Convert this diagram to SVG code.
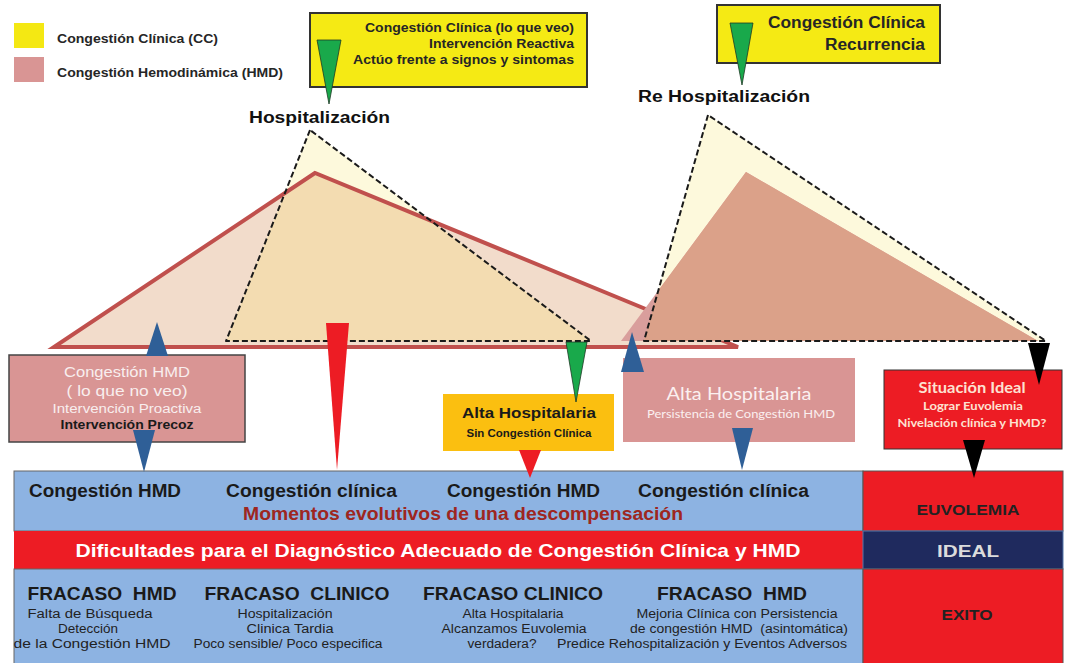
<svg xmlns="http://www.w3.org/2000/svg" width="1068" height="663" viewBox="0 0 1068 663">
<style>
text{font-family:"Liberation Sans",Arial,sans-serif;}
.b{font-weight:bold;}
.dk{fill:#262626;}
.cal{font-family:Lato,"Open Sans",sans-serif;}
.dash{fill:none;stroke:#1a1a1a;stroke-width:2;stroke-dasharray:6 3;stroke-linejoin:round;}
.blue{fill:#2f5f97;}
.red{fill:#ed1c24;}
.green{fill:#19a94b;stroke:#1d3a24;stroke-width:0.8;}
.black{fill:#000;}
.sub{font-size:12px;fill:#222;}
.head{font-size:18px;font-weight:bold;fill:#1a1a1a;}
</style>
<rect width="1068" height="663" fill="#fff"/>

<g id="legend">
<rect x="14" y="23" width="30" height="25" fill="#f4e813"/>
<rect x="14" y="57" width="30" height="25" fill="#d99594"/>
<text x="57" y="43" class="b dk" font-size="12" textLength="161" lengthAdjust="spacingAndGlyphs">Congestión Clínica (CC)</text>
<text x="57" y="77" class="b dk" font-size="12" textLength="226" lengthAdjust="spacingAndGlyphs">Congestión Hemodinámica (HMD)</text>
</g>

<g id="curves">
<polygon points="315,173 54,347 738,347" fill="#f2dccb"/>
<polygon points="310,130 226,341 591,341" fill="#fdf9dc"/>
<polygon points="285,193 315,173 431,221 591,341 226,341" fill="#f3dcb1"/>
<polygon points="315,173 54,347 738,347" fill="none" stroke="#c0504d" stroke-width="4" stroke-linejoin="miter"/>
<polygon points="310,130 226,341 591,341" class="dash"/>
<polygon points="708,115 644,341 1046,341" fill="#fdf9dc"/>
<polygon points="746,172 621,341 1038,341" fill="#d99e9c"/>
<polygon points="746,172 1038,341 644,341 658,291" fill="#dba189"/>
<polygon points="708,115 644,341 1046,341" class="dash"/>
</g>

<g id="box-cc">
<rect x="310" y="13" width="277" height="74" fill="#f5ea14" stroke="#333" stroke-width="2"/>
<text x="574" y="32" text-anchor="end" class="b dk" font-size="12.5" textLength="209" lengthAdjust="spacingAndGlyphs">Congestión Clínica (lo que veo)</text>
<text x="574" y="48" text-anchor="end" class="b dk" font-size="12.5" textLength="145" lengthAdjust="spacingAndGlyphs">Intervención Reactiva</text>
<text x="574" y="64" text-anchor="end" class="b dk" font-size="12.5" textLength="221" lengthAdjust="spacingAndGlyphs">Actúo frente a signos y sintomas</text>
</g>

<g id="box-recurrencia">
<rect x="717" y="5" width="223" height="58" fill="#f5ea14" stroke="#333" stroke-width="2"/>
<text x="925" y="28" text-anchor="end" class="b dk" font-size="16" textLength="157" lengthAdjust="spacingAndGlyphs">Congestión Clínica</text>
<text x="925" y="50" text-anchor="end" class="b dk" font-size="16" textLength="100" lengthAdjust="spacingAndGlyphs">Recurrencia</text>
</g>

<g id="label-hosp">
<text x="249" y="123" class="b" fill="#111" font-size="16" textLength="141" lengthAdjust="spacingAndGlyphs">Hospitalización</text>
</g>
<g id="label-rehosp">
<text x="638" y="102" class="b" fill="#111" font-size="16" textLength="172" lengthAdjust="spacingAndGlyphs">Re Hospitalización</text>
</g>

<g id="box-hmd">
<rect x="9" y="355" width="236" height="87" fill="#d99594" stroke="#444" stroke-width="1.5"/>
<text x="127" y="377" text-anchor="middle" fill="#f8eeee" font-size="14" textLength="126" lengthAdjust="spacingAndGlyphs">Congestión HMD</text>
<text x="127" y="396" text-anchor="middle" fill="#f8eeee" font-size="14" textLength="121" lengthAdjust="spacingAndGlyphs">( lo que no veo)</text>
<text x="127" y="413" text-anchor="middle" fill="#f8eeee" font-size="12" textLength="149" lengthAdjust="spacingAndGlyphs">Intervención Proactiva</text>
<text x="127" y="429" text-anchor="middle" class="b" fill="#1a1a1a" font-size="12" textLength="133" lengthAdjust="spacingAndGlyphs">Intervención Precoz</text>
</g>

<g id="box-alta">
<rect x="443" y="394" width="171" height="57" fill="#fbbf10"/>
<text x="529" y="418" text-anchor="middle" class="b" fill="#1a1a1a" font-size="15" textLength="134" lengthAdjust="spacingAndGlyphs">Alta Hospitalaria</text>
<text x="529" y="437" text-anchor="middle" class="b" fill="#1a1a1a" font-size="11" textLength="125" lengthAdjust="spacingAndGlyphs">Sin Congestión Clínica</text>
</g>

<g id="box-alta-hmd">
<rect x="623" y="358" width="232" height="84" fill="#d99594"/>
<text x="739" y="400" text-anchor="middle" class="cal" fill="#fbf0f0" font-size="17" textLength="145" lengthAdjust="spacingAndGlyphs">Alta Hospitalaria</text>
<text x="741" y="418" text-anchor="middle" class="cal" fill="#fbf0f0" font-size="12" textLength="188" lengthAdjust="spacingAndGlyphs">Persistencia de Congestión HMD</text>
</g>

<g id="box-ideal">
<rect x="884" y="370" width="178" height="79" fill="#ed1c24" stroke="#333" stroke-width="1"/>
<text x="972" y="393" text-anchor="middle" class="cal b" fill="#fde2d2" font-size="15" textLength="107" lengthAdjust="spacingAndGlyphs">Situación Ideal</text>
<text x="973" y="410" text-anchor="middle" class="cal b" fill="#fde2d2" font-size="11" textLength="100" lengthAdjust="spacingAndGlyphs">Lograr Euvolemia</text>
<text x="972" y="427" text-anchor="middle" class="cal b" fill="#fde2d2" font-size="11" textLength="149" lengthAdjust="spacingAndGlyphs">Nivelación clínica y HMD?</text>
</g>

<g id="band-momentos">
<rect x="14" y="471" width="849" height="60" fill="#8db3e2" stroke="#666" stroke-width="1"/>
<text x="29" y="497" class="head" textLength="152" lengthAdjust="spacingAndGlyphs">Congestión HMD</text>
<text x="226" y="497" class="head" textLength="171" lengthAdjust="spacingAndGlyphs">Congestión clínica</text>
<text x="447" y="497" class="head" textLength="153" lengthAdjust="spacingAndGlyphs">Congestión HMD</text>
<text x="638" y="497" class="head" textLength="171" lengthAdjust="spacingAndGlyphs">Congestión clínica</text>
<text x="463" y="520" text-anchor="middle" class="b" fill="#9e2620" font-size="18" textLength="440" lengthAdjust="spacingAndGlyphs">Momentos evolutivos de una descompensación</text>
</g>

<g id="band-dificultades">
<rect x="14" y="531" width="849" height="38" fill="#ed1c24"/>
<text x="438" y="557" text-anchor="middle" class="b" fill="#fff" font-size="19" textLength="725" lengthAdjust="spacingAndGlyphs">Dificultades para el Diagnóstico Adecuado de Congestión Clínica y HMD</text>
</g>

<g id="band-fracaso">
<rect x="14" y="569" width="849" height="96" fill="#8db3e2" stroke="#666" stroke-width="1"/>
<text x="102" y="600" text-anchor="middle" class="head" textLength="149" lengthAdjust="spacingAndGlyphs">FRACASO&#160; HMD</text>
<text x="297" y="600" text-anchor="middle" class="head" textLength="185" lengthAdjust="spacingAndGlyphs">FRACASO&#160; CLINICO</text>
<text x="513" y="600" text-anchor="middle" class="head" textLength="180" lengthAdjust="spacingAndGlyphs">FRACASO CLINICO</text>
<text x="732" y="600" text-anchor="middle" class="head" textLength="150" lengthAdjust="spacingAndGlyphs">FRACASO&#160; HMD</text>
<text x="90" y="618" text-anchor="middle" class="sub" textLength="125" lengthAdjust="spacingAndGlyphs">Falta de Búsqueda</text>
<text x="88" y="633" text-anchor="middle" class="sub" textLength="60" lengthAdjust="spacingAndGlyphs">Detección</text>
<text x="92" y="648" text-anchor="middle" class="sub" textLength="157" lengthAdjust="spacingAndGlyphs">de la Congestión HMD</text>
<text x="285" y="618" text-anchor="middle" class="sub" textLength="95" lengthAdjust="spacingAndGlyphs">Hospitalización</text>
<text x="290" y="633" text-anchor="middle" class="sub" textLength="87" lengthAdjust="spacingAndGlyphs">Clinica Tardia</text>
<text x="288" y="648" text-anchor="middle" class="sub" textLength="189" lengthAdjust="spacingAndGlyphs">Poco sensible/ Poco especifica</text>
<text x="513" y="618" text-anchor="middle" class="sub" textLength="101" lengthAdjust="spacingAndGlyphs">Alta Hospitalaria</text>
<text x="514" y="633" text-anchor="middle" class="sub" textLength="145" lengthAdjust="spacingAndGlyphs">Alcanzamos Euvolemia</text>
<text x="502" y="648" text-anchor="middle" class="sub" textLength="69" lengthAdjust="spacingAndGlyphs">verdadera?</text>
<text x="737" y="618" text-anchor="middle" class="sub" textLength="201" lengthAdjust="spacingAndGlyphs">Mejoria Clínica con Persistencia</text>
<text x="739" y="633" text-anchor="middle" class="sub" textLength="218" lengthAdjust="spacingAndGlyphs">de congestión HMD&#160; (asintomática)</text>
<text x="702" y="648" text-anchor="middle" class="sub" textLength="290" lengthAdjust="spacingAndGlyphs">Predice Rehospitalización y Eventos Adversos</text>
</g>

<g id="cell-euvolemia">
<rect x="863" y="471" width="200" height="60" fill="#ed1c24" stroke="#555" stroke-width="1"/>
<text x="968" y="515" text-anchor="middle" class="b" fill="#222" font-size="14" textLength="103" lengthAdjust="spacingAndGlyphs">EUVOLEMIA</text>
</g>
<g id="cell-ideal">
<rect x="863" y="531" width="200" height="38" fill="#1f2a5e" stroke="#5577aa" stroke-width="1"/>
<text x="968" y="557" text-anchor="middle" class="b" fill="#dcdcdc" font-size="17" textLength="62" lengthAdjust="spacingAndGlyphs">IDEAL</text>
</g>
<g id="cell-exito">
<rect x="863" y="569" width="200" height="96" fill="#ed1c24" stroke="#555" stroke-width="1"/>
<text x="967" y="620" text-anchor="middle" class="b" fill="#222" font-size="15" textLength="51" lengthAdjust="spacingAndGlyphs">EXITO</text>
</g>

<g id="connectors">
<polygon class="green" points="317,40 341,40 329,104"/>
<polygon class="green" points="730,23 753,23 742,85"/>
<polygon class="blue" points="157,322 146,356 168,356"/>
<polygon class="blue" points="133,430 155,430 144,472"/>
<polygon class="red" points="326,323 349,323 337,470"/>
<polygon class="green" points="566,342 587,342 576,402"/>
<polygon class="blue" points="632,332 621,372 644,372"/>
<polygon class="blue" points="732,428 753,428 742,470"/>
<polygon class="red" points="519,450 541,450 530,478"/>
<polygon class="black" points="1028,343 1050,343 1039,385"/>
<polygon class="black" points="963,440 985,440 974,478"/>
</g>
</svg>
